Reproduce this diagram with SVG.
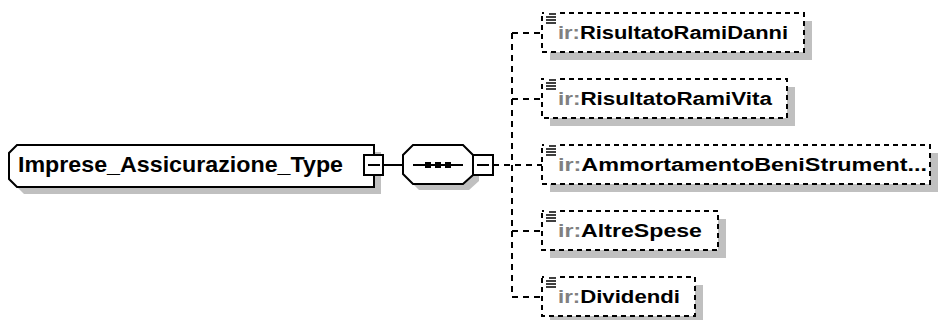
<svg xmlns="http://www.w3.org/2000/svg" width="942" height="320" viewBox="0 0 942 320">
<style>
.bg{fill:#fff}
.sh{fill:#c0c0c0}
.solid{fill:#fff;stroke:#000;stroke-width:2}
.dash{fill:#fff;stroke:#000;stroke-width:2;stroke-dasharray:5,4}
.ln{fill:none;stroke:#000;stroke-width:2}
.dln{fill:none;stroke:#000;stroke-width:2;stroke-dasharray:6,5}
.ic{stroke:#000;stroke-width:1.5}
.t{font-family:"Liberation Sans",Arial,sans-serif;font-weight:bold;fill:#000}
.ns{fill:#808080}
</style>
<rect width="942" height="320" class="bg"/>
<g id="connectors">
<line x1="383" y1="165" x2="403" y2="165" class="ln"/>
<line x1="493" y1="165" x2="542" y2="165" class="dln"/>
<line x1="512" y1="33" x2="512" y2="297" class="dln"/>
<line x1="512" y1="33" x2="542" y2="33" class="dln"/>
<line x1="512" y1="99" x2="542" y2="99" class="dln"/>
<line x1="512" y1="231" x2="542" y2="231" class="dln"/>
<line x1="512" y1="297" x2="542" y2="297" class="dln"/>
</g>
<g id="main">
<path d="M24,152 H381 V194 H24 L16,186 V160 Z" class="sh"/>
<path d="M17,145 H374 V187 H17 L9,179 V153 Z" class="solid"/>
<text x="18" y="172" class="t" font-size="22" textLength="325" lengthAdjust="spacingAndGlyphs">Imprese_Assicurazione_Type</text>
<rect x="364" y="155" width="19" height="20" class="solid"/>
<line x1="368" y1="165" x2="380" y2="165" class="ln"/>
</g>
<g id="sequence">
<path d="M419,151 H469 L479,161 V181 L469,190 H419 L409,180 V161 Z" class="sh"/>
<path d="M413,145 H463 L473,155 V175 L463,184 H413 L403,174 V155 Z" class="solid"/>
<line x1="413" y1="165" x2="463" y2="165" class="ln"/>
<rect x="425" y="162" width="6" height="6"/>
<rect x="435" y="162" width="6" height="6"/>
<rect x="445" y="162" width="6" height="6"/>
<rect x="473" y="155" width="20" height="20" class="solid"/>
<line x1="477" y1="165" x2="489" y2="165" class="ln"/>
</g>
<g id="RisultatoRamiDanni">
<rect x="550" y="21" width="262" height="39" class="sh"/>
<rect x="542" y="13" width="262" height="39" class="dash"/>
<rect x="544" y="10" width="12" height="14" class="bg"/>
<path d="M549,14 H556 M546,17 H556 M546,20 H556 M546,23 H556" class="ic"/>
<text x="558" y="39" class="t" font-size="18" textLength="230" lengthAdjust="spacingAndGlyphs"><tspan class="ns">ir:</tspan>RisultatoRamiDanni</text>
</g>
<g id="RisultatoRamiVita">
<rect x="550" y="87" width="245" height="39" class="sh"/>
<rect x="542" y="79" width="245" height="39" class="dash"/>
<rect x="544" y="76" width="12" height="14" class="bg"/>
<path d="M549,80 H556 M546,83 H556 M546,86 H556 M546,89 H556" class="ic"/>
<text x="558" y="105" class="t" font-size="18" textLength="214" lengthAdjust="spacingAndGlyphs"><tspan class="ns">ir:</tspan>RisultatoRamiVita</text>
</g>
<g id="AmmortamentoBeniStrumentali">
<rect x="550" y="153" width="388" height="39" class="sh"/>
<rect x="542" y="145" width="388" height="39" class="dash"/>
<rect x="544" y="142" width="12" height="14" class="bg"/>
<path d="M549,146 H556 M546,149 H556 M546,152 H556 M546,155 H556" class="ic"/>
<text x="558" y="171" class="t" font-size="18" textLength="369" lengthAdjust="spacingAndGlyphs"><tspan class="ns">ir:</tspan>AmmortamentoBeniStrument...</text>
</g>
<g id="AltreSpese">
<rect x="550" y="219" width="176" height="39" class="sh"/>
<rect x="542" y="211" width="176" height="39" class="dash"/>
<rect x="544" y="208" width="12" height="14" class="bg"/>
<path d="M549,212 H556 M546,215 H556 M546,218 H556 M546,221 H556" class="ic"/>
<text x="558" y="237" class="t" font-size="18" textLength="144" lengthAdjust="spacingAndGlyphs"><tspan class="ns">ir:</tspan>AltreSpese</text>
</g>
<g id="Dividendi">
<rect x="550" y="285" width="153" height="39" class="sh"/>
<rect x="542" y="277" width="153" height="39" class="dash"/>
<rect x="544" y="274" width="12" height="14" class="bg"/>
<path d="M549,278 H556 M546,281 H556 M546,284 H556 M546,287 H556" class="ic"/>
<text x="558" y="303" class="t" font-size="18" textLength="122" lengthAdjust="spacingAndGlyphs"><tspan class="ns">ir:</tspan>Dividendi</text>
</g>
</svg>
